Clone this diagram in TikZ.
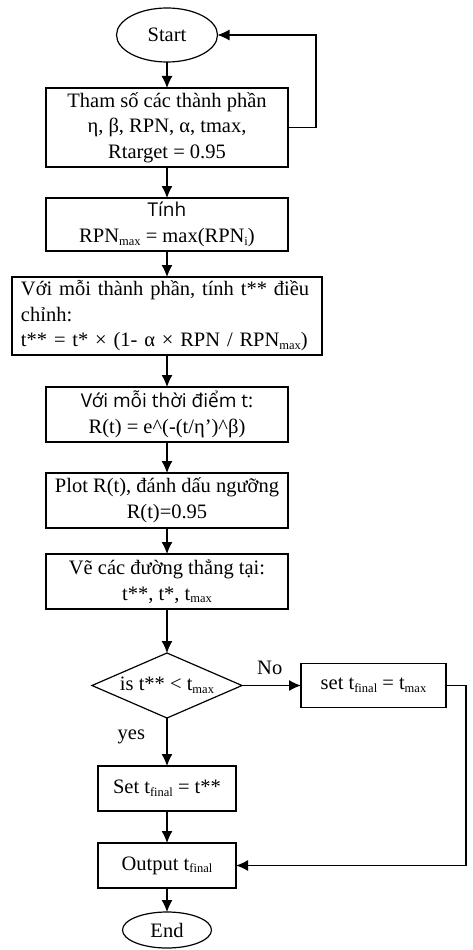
\documentclass[tikz,border=0pt]{standalone}
\usepackage{fontspec}
\setmainfont{Liberation Serif}
\newfontfamily\sansvn{Open Sans}
\usepackage{tikz}
\usetikzlibrary{arrows.meta,shapes.geometric,positioning}
\newcommand{\ix}[1]{\raisebox{-0.3ex}{\fontsize{12.5}{13}\selectfont #1}}
\newcommand{\sanstext}[1]{{\sansvn\fontsize{19}{25.5}\selectfont #1}}

\begin{document}
\begin{tikzpicture}[
		txt/.style      = {font=\fontsize{20.5}{25.5}\selectfont},
		basic/.style    = {draw, txt, line width=1.2pt, outer sep=0pt, rectangle, inner xsep=2pt, inner ysep=0pt, align=center},
		box/.style      = {basic, minimum width=242pt, minimum height=55pt},
		wide/.style     = {basic, text width=292pt, inner xsep=9pt, align=left, minimum height=78pt},
		small/.style    = {basic, minimum width=138pt, minimum height=45pt},
		term/.style     = {draw, txt, line width=1.2pt, outer sep=0pt, ellipse, inner sep=0pt},
		decision/.style = {draw, line width=1.2pt, outer sep=0pt, diamond, inner sep=0pt, minimum width=150pt, minimum height=65pt},
		line width=1.2pt,
		>={Latex[length=12pt,width=11pt]}]
		
		\useasboundingbox (-167pt,35pt) rectangle (305pt,-915pt);
		
		% Start and the input data
		\node[term, minimum width=101pt, minimum height=54pt] (start) {Start};
		\node[box, minimum height=79pt, below=26pt of start] (c1) {Tham số các thành phần\\ η, β, RPN, α, tmax,\\ Rtarget = 0.95};
		
		% Main chain of steps
		\node[box, minimum height=53pt, below=31pt of c1] (c2) {\sanstext{Tính}\\ RPN\ix{max} = max(RPN\ix{i})};
		\node[wide, below=26pt of c2] (c3) {Với mỗi thành phần, tính t** điều\\ chỉnh:\\ t** = t* × (1- α × RPN / RPN\ix{max})};
		\node[box, below=32pt of c3] (c4) {\sanstext{Với mỗi thời điểm t:}\\ R(t) = e\textasciicircum(-(t/η')\textasciicircum β)};
		\node[box, below=31pt of c4] (c5) {Plot R(t), đánh dấu ngưỡng\\ R(t)=0.95};
		\node[box, below=26pt of c5] (c6) {Vẽ các đường thẳng tại:\\ t**, t*, t\ix{max}};
		
		% Decision and its two branches
		\node[decision, below=44pt of c6, label={[txt]center:is t** < t\ix{max}}] (dec) {};
		\node[small, minimum width=145pt, minimum height=44pt, right=59pt of dec] (setmax) {set t\ix{final} = t\ix{max}};
		\node[small, below=48pt of dec] (c7) {Set t\ix{final} = t**};
		
		% Output and End
		\node[small, below=32pt of c7] (out) {Output t\ix{final}};
		\node[term, minimum width=89pt, minimum height=36pt, below=24pt of out] (stop) {End};
		
		% Arrows down the chain
		\foreach \a/\b in {start/c1, c1/c2, c2/c3, c3/c4, c4/c5, c5/c6, c6/dec, c7/out, out/stop}
		\draw[->] (\a) -- (\b);
		
		\draw[->] (dec) -- node[txt, pos=0.4, left=18pt] {yes} (c7);
		\draw[->] (dec) -- node[txt, pos=0.47, above=7pt] {No} (setmax);
		
		% Loops back on the right side
		\draw[->] (c1.east) -- ++(28pt,0) |- (start.east);
		\draw[->] (setmax.east) -- ++(20pt,0) |- (out.east);
		
	\end{tikzpicture}
\end{document}
